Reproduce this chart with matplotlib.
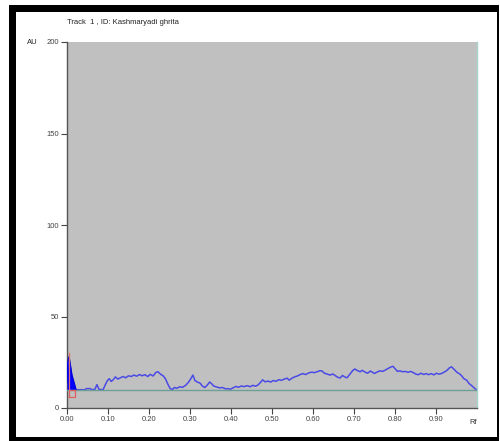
import matplotlib
matplotlib.use("Agg")
import matplotlib.pyplot as plt
from matplotlib.patches import Rectangle

# ---- data ----
title = "Track  1 , ID: Kashmaryadi ghrita"
x_label = "Rf"
y_label = "AU"
x_ticks = [0.0, 0.1, 0.2, 0.3, 0.4, 0.5, 0.6, 0.7, 0.8, 0.9]
x_tick_labels = ["0.00", "0.10", "0.20", "0.30", "0.40", "0.50", "0.60", "0.70", "0.80", "0.90"]
y_ticks = [0, 50, 100, 150, 200]
baseline_au = 9.8

peak_rf = [0.0, 0.002, 0.005, 0.012, 0.022]
peak_au = [14, 25, 28, 18, 10]

marker_rf = [0.006, 0.006, 0.020, 0.020, 0.006]
marker_au = [6, 10, 10, 6, 6]
marker_line_rf = [0.005, 0.005]
marker_line_au = [10, 30]

curve_rf = [0.022, 0.045, 0.047, 0.057, 0.060, 0.068, 0.073, 0.078, 0.088, 0.092,
            0.098, 0.103, 0.108, 0.113, 0.118, 0.124, 0.130, 0.137, 0.143, 0.150,
            0.157, 0.163, 0.170, 0.177, 0.183, 0.190, 0.197, 0.203, 0.210, 0.217,
            0.222, 0.228, 0.235, 0.240, 0.246, 0.252, 0.258, 0.262, 0.268, 0.275,
            0.282, 0.290, 0.296, 0.302, 0.307, 0.312, 0.318, 0.325, 0.330, 0.336,
            0.342, 0.348, 0.353, 0.358, 0.365, 0.372, 0.380, 0.387, 0.393, 0.398,
            0.405, 0.412, 0.418, 0.425, 0.432, 0.440, 0.447, 0.453, 0.460, 0.466,
            0.472, 0.477, 0.483, 0.490, 0.497, 0.503, 0.510, 0.517, 0.523, 0.530,
            0.537, 0.542, 0.548, 0.555, 0.562, 0.568, 0.575, 0.582, 0.590, 0.597,
            0.603, 0.610, 0.617, 0.622, 0.628, 0.635, 0.642, 0.648, 0.655, 0.660,
            0.666, 0.672, 0.677, 0.683, 0.690, 0.697, 0.702, 0.708, 0.715, 0.720,
            0.727, 0.733, 0.740, 0.745, 0.750, 0.757, 0.763, 0.770, 0.777, 0.783,
            0.790, 0.795, 0.800, 0.806, 0.812, 0.818, 0.825, 0.832, 0.838, 0.845,
            0.851, 0.857, 0.863, 0.870, 0.876, 0.882, 0.888, 0.895, 0.901, 0.907,
            0.913, 0.920, 0.927, 0.933, 0.938, 0.943, 0.948, 0.953, 0.958, 0.963,
            0.968, 0.975, 0.980, 0.985, 0.990, 0.995, 1.000]
curve_au = [10, 10, 10.6, 10.6, 10, 10.2, 12.8, 10.2, 10, 12,
            14.8, 16, 14.5, 15.5, 17, 15.8, 16.5, 17.2, 16.5, 17.6,
            17.2, 18, 17.4, 18.3, 17.6, 18.2, 17.2, 18.4, 17.5, 19.5,
            19.8, 18.5, 17.5, 16, 13, 10.5, 10.2, 11.2, 10.8, 11.6,
            11.3, 12.5, 14, 16, 18, 15, 14.2, 13.5, 12, 11.2,
            12.5, 14.2, 13.2, 12, 11.5, 11, 11.2, 10.4, 10.6, 10.2,
            11, 11.8, 11.3, 12, 11.7, 12.2, 11.6, 12.4, 11.9, 12.6,
            14, 15.4, 14.3, 14.7, 14.2, 15, 14.6, 15.5, 15.1, 15.8,
            16.3, 15.2, 16.2, 17, 17.5, 18.2, 18.8, 18.3, 19.2, 19.6,
            19.3, 19.8, 20.4, 20.2, 19, 18.5, 18, 18.6, 17.6, 16.8,
            16.4, 17.8, 17, 16.5, 18.5, 20.5, 21.3, 20.5, 19.8, 20.6,
            19.6, 19, 20.2, 19.5, 18.9, 19.7, 20.3, 20, 20.8, 21.6,
            22.4, 22.8, 21.5, 20, 20.3, 19.8, 20, 19.5, 20, 19.3,
            18.5, 18.2, 19, 18.3, 18.8, 18.2, 18.8, 18.1, 19, 18.5,
            18.8, 19.6, 20.6, 22, 22.5, 21.4, 20.2, 19.2, 18.6, 17.5,
            16, 15.2, 13.5, 12.6, 11.6, 10.6, 9.8]

# ---- figure ----
W, H = 500, 441
fig = plt.figure(figsize=(W / 100, H / 100), dpi=100)
fig.patch.set_facecolor("white")
plt.rcParams['font.family'] = ['Liberation Sans', 'DejaVu Sans']

# outer black frame
def px_rect(x0, y0, x1, y1, color="black"):
    fig.patches.append(Rectangle((x0 / W, 1 - y1 / H), (x1 - x0) / W, (y1 - y0) / H,
                                 transform=fig.transFigure, facecolor=color,
                                 edgecolor="none", zorder=0))

px_rect(9, 5, 16, 441)
px_rect(9, 5, 499, 12)
px_rect(497, 5, 499, 441)
px_rect(9, 437, 499, 441)

ax = fig.add_axes([67 / W, 1 - 408 / H, 410 / W, 366 / H])
ax.set_facecolor("#c0c0c0")
ax.set_xlim(0, 1.0)
ax.set_ylim(0, 200)

ax.plot(curve_rf, curve_au, color="#4a4ae6", lw=1.1, zorder=2)
ax.fill_between(peak_rf, baseline_au, peak_au, color="#0000ff", lw=0, zorder=3)
ax.plot(peak_rf, peak_au, color="#0000dd", lw=1.0, zorder=3)
ax.axhline(baseline_au, color="#6e9e96", lw=1.0, zorder=4)
ax.plot(marker_rf, marker_au, color="#e06060", lw=0.9, zorder=5)
ax.plot(marker_line_rf, marker_line_au, color="#e07070", lw=0.9, zorder=5)

ax.set_xticks(x_ticks)
ax.set_xticklabels(x_tick_labels)
ax.set_yticks(y_ticks)
ax.tick_params(axis="both", direction="out", length=4, width=0.8, color="#444444",
               labelsize=5.5, labelcolor="#444444", pad=1.5)

for s in ["left", "bottom"]:
    ax.spines[s].set_color("#555555")
    ax.spines[s].set_linewidth(1.0)
ax.spines["top"].set_visible(False)
ax.spines["right"].set_color("#a8d4d0")
ax.spines["right"].set_linewidth(1.0)

fig.text(67 / W, 1 - 22 / H, title, fontsize=5.5, color="#222222", va="center", ha="left")
fig.text(32 / W, 1 - 43 / H, y_label, fontsize=5.5, color="#222222", va="center", ha="center")
fig.text(473 / W, 1 - 423 / H, x_label, fontsize=5.5, color="#333333", va="center", ha="center")

fig.savefig("out.png", dpi=100)
